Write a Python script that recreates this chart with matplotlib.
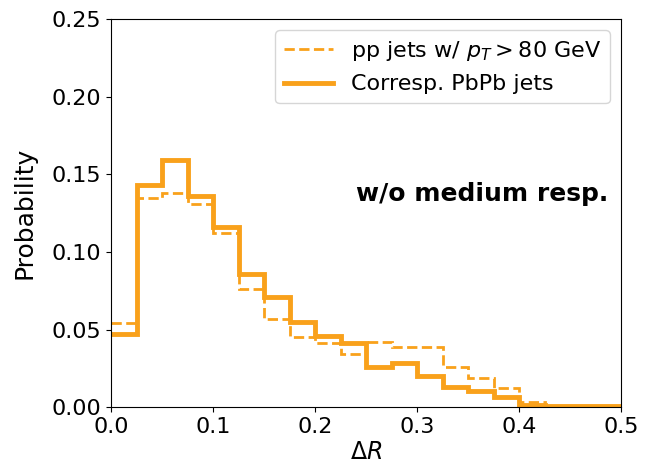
import numpy as np
import matplotlib
matplotlib.use('Agg')
import matplotlib.pyplot as plt

# bin edges in Delta R
edges = np.arange(0, 0.5001, 0.025)
# pp jets w/ pT > 80 GeV (dashed)
pp_prob = [0.054, 0.135, 0.138, 0.131, 0.112, 0.076, 0.057, 0.045, 0.041, 0.0345,
           0.042, 0.0388, 0.0388, 0.026, 0.019, 0.012, 0.003, 0.0, 0.0, 0.0]
# corresponding PbPb jets (solid)
pbpb_prob = [0.047, 0.143, 0.159, 0.136, 0.116, 0.086, 0.071, 0.055, 0.0456, 0.041,
             0.026, 0.0285, 0.020, 0.0127, 0.0105, 0.0062, 0.0013, 0.0008, 0.0008, 0.0005]

col = '#f9a11b'

fig = plt.figure(figsize=(6.51, 4.69), dpi=100)
ax = fig.add_axes([0.171, 0.132, 0.783, 0.827])
ax.stairs(pp_prob, edges, color=col, lw=2, ls='--', baseline=None,
          label=r'pp jets w/ $p_T > 80$ GeV')
ax.stairs(pbpb_prob, edges, color=col, lw=3.5, baseline=None, label='Corresp. PbPb jets')

ax.set_xlim(0, 0.5)
ax.set_ylim(0, 0.25)
ax.set_xticks([0, 0.1, 0.2, 0.3, 0.4, 0.5])
ax.set_yticks([0, 0.05, 0.10, 0.15, 0.20, 0.25])
ax.set_yticklabels(['0.00', '0.05', '0.10', '0.15', '0.20', '0.25'])
ax.tick_params(labelsize=16)
ax.set_xlabel(r'$\Delta R$', fontsize=17, labelpad=2)
ax.set_ylabel('Probability', fontsize=18, labelpad=11)
ax.text(0.975, 0.55, 'w/o medium resp.', transform=ax.transAxes, ha='right', va='center',
        fontsize=18, fontweight='bold')
ax.legend(loc='upper right', fontsize=16, handlelength=2.2)

fig.savefig('out.png', dpi=100)
